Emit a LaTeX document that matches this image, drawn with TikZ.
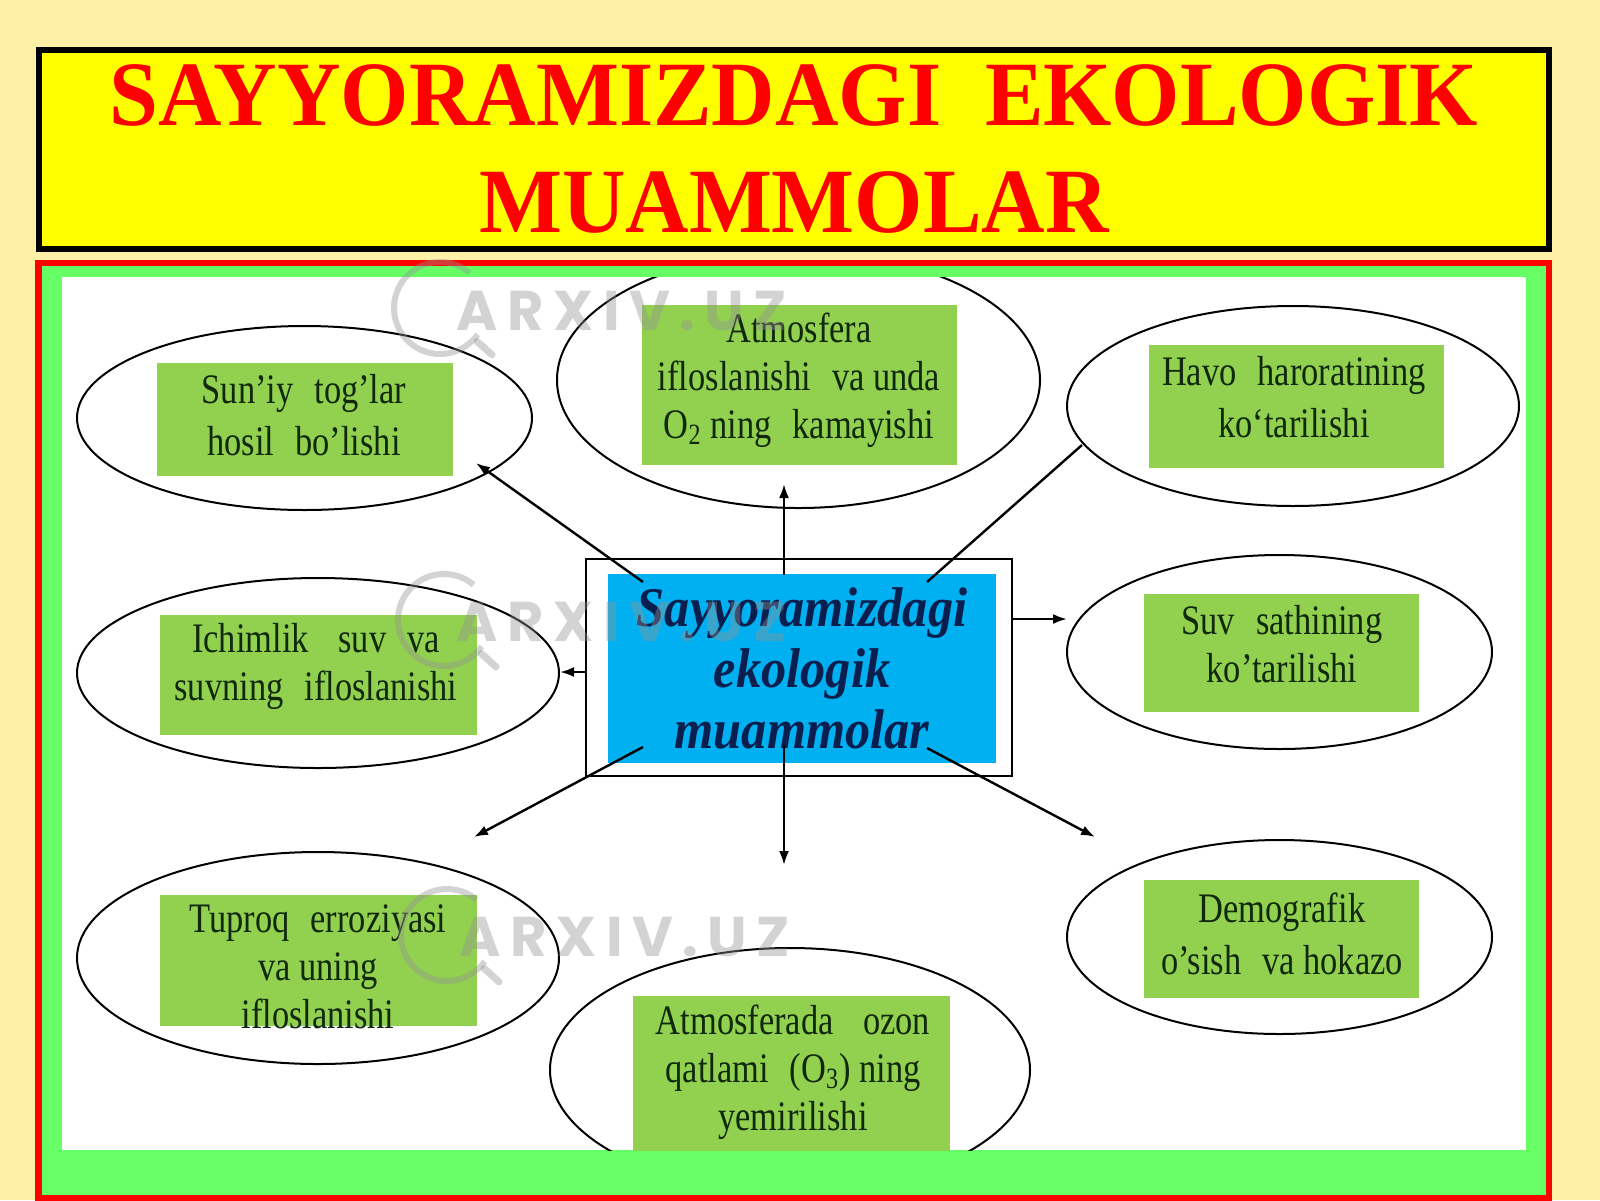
\documentclass[tikz,border=0pt]{standalone}
\usepackage{fontspec}
\setmainfont{Liberation Serif}
\newfontfamily\titlefont[FakeStretch=0.955]{Liberation Serif}
\newfontfamily\boxfont[FakeStretch=0.82]{Liberation Serif}
\newfontfamily\centerfont[FakeStretch=0.9]{Liberation Serif}
\newfontfamily\wmfont[LetterSpace=17]{Poppins}
\usetikzlibrary{shapes.geometric,arrows.meta}
\definecolor{bgyellow}{HTML}{FFF0A8}
\definecolor{titleyellow}{HTML}{FFFF00}
\definecolor{framered}{HTML}{FF0000}
\definecolor{bandgreen}{HTML}{66FF66}
\definecolor{boxgreen}{HTML}{92D050}
\definecolor{coreblue}{HTML}{00B0F0}
\definecolor{navy}{HTML}{0B1F4F}
\definecolor{boxtext}{HTML}{10280C}
\tikzset{
  oval/.style={draw=black, line width=1pt, ellipse, inner sep=0pt},
  gbox/.style={fill=boxgreen, draw=none, inner sep=0pt},
  btext/.style={font=\boxfont\fontsize{21}{24}\selectfont, text=boxtext, align=center, inner sep=0pt},
  bwide/.style={font=\boxfont\fontsize{21}{26}\selectfont},
  ttext/.style={font=\titlefont\bfseries\fontsize{46}{52}\selectfont, text=framered, inner sep=0pt, anchor=base},
  arr/.style={line width=1.2pt, -{Latex[length=7pt,width=5pt]}},
  plainline/.style={line width=1.2pt},
  wm/.style={font=\wmfont\bfseries\fontsize{28}{30}\selectfont, text=gray!85, inner sep=0pt},
}
\begin{document}
\begin{tikzpicture}[x=0.5pt,y=-0.5pt]
\useasboundingbox (0,0) rectangle (1600,1200);
\fill[bgyellow] (0,0) rectangle (1600,1200);

% title
\draw[line width=3pt, fill=titleyellow] (39,50) rectangle (1549,249);
\node[ttext] (title1) at (794,125) {SAYYORAMIZDAGI\hspace{22pt}EKOLOGIK};
\node[ttext] (title2) at (794,232) {MUAMMOLAR};

% frame
\fill[framered] (35,260) rectangle (1552,1205);
\fill[bandgreen] (42,266) rectangle (1546,1195);
\fill[white] (62,277) rectangle (1526,1150);

\begin{scope}
\clip (62,277) rectangle (1526,1150);
% ellipses
\node[oval, minimum width=227.5pt, minimum height=92pt] (e1) at (304.5,418) {};
\node[oval, minimum width=241.5pt, minimum height=128pt] (e2) at (798.5,380) {};
\node[oval, minimum width=226pt, minimum height=100pt] (e3) at (1293,406) {};
\node[oval, minimum width=241pt, minimum height=95pt] (e4) at (318,673) {};
\node[oval, minimum width=212.5pt, minimum height=97pt] (e6) at (1279.5,652) {};
\node[oval, minimum width=241pt, minimum height=106pt] (e7) at (318,958) {};
\node[oval, minimum width=240pt, minimum height=122pt] (e8) at (790,1070) {};
\node[oval, minimum width=212.5pt, minimum height=97pt] (e9) at (1279.5,937) {};

% green boxes
\node[gbox, minimum width=148pt, minimum height=56.5pt] (b1) at (305,419.5) {};
\node[gbox, minimum width=157.5pt, minimum height=80pt] (b2) at (799.5,385) {};
\node[gbox, minimum width=147.5pt, minimum height=61.5pt] (b3) at (1296.5,406.5) {};
\node[gbox, minimum width=158.5pt, minimum height=60pt] (b4) at (318.5,675) {};
\node[gbox, minimum width=137.5pt, minimum height=59pt] (b6) at (1281.5,653) {};
\node[gbox, minimum width=158.5pt, minimum height=65.5pt] (b7) at (318.5,960.5) {};
\node[gbox, minimum width=158.5pt, minimum height=80pt] (b8) at (791.5,1076) {};
\node[gbox, minimum width=137.5pt, minimum height=59pt] (b9) at (1281.5,939) {};

% box texts
\node[btext, bwide] (t1) at (304,415) {Sun’iy\enspace tog’lar\\hosil\enspace bo’lishi};
\node[btext] (t2) at (799,380) {Atmosfera\\ifloslanishi\enspace va unda\\O\textsubscript{2} ning\enspace kamayishi};
\node[btext, bwide] (t3) at (1294,397) {Havo\enspace haroratining\\ko‘tarilishi};
\node[btext] (t4) at (316,666) {Ichimlik\enspace\ suv\enspace va\\suvning\enspace ifloslanishi};
\node[btext] (t6) at (1282,644) {Suv\enspace sathining\\ko’tarilishi};
\node[btext] (t7) at (318,967) {Tuproq\enspace erroziyasi\\va uning\\ifloslanishi};
\node[btext] (t8) at (793,1072) {Atmosferada\enspace\ ozon\\qatlami\enspace (O\textsubscript{3}) ning\\yemirilishi};
\node[btext, bwide] (t9) at (1282,934) {Demografik\\o’sish\enspace va hokazo};
\end{scope}

% central block
\node[draw=black, line width=1pt, fill=white, minimum width=213pt, minimum height=108.5pt, inner sep=0pt] (cbox) at (799,667.5) {};
\node[fill=coreblue, minimum width=194pt, minimum height=94.5pt, inner sep=0pt, text=navy,
      font=\centerfont\bfseries\itshape\fontsize{28}{30.5}\selectfont, align=center] (core) at (802,668.5)
      {Sayyoramizdagi\\ekologik\\muammolar};

% connector end points
\coordinate (s1) at (643,582);  \coordinate (p1) at (476,463);
\coordinate (s2) at (784,575);  \coordinate (p2) at (784,484);
\coordinate (s3) at (927,582);  \coordinate (p3) at (1082,445);
\coordinate (s6) at (1012,619); \coordinate (p6) at (1067,619);
\coordinate (s4) at (586,672);  \coordinate (p4) at (560,672);
\coordinate (s7) at (643,747);  \coordinate (p7) at (474,837);
\coordinate (s8) at (784,745);  \coordinate (p8) at (784,865);
\coordinate (s9) at (927,748);  \coordinate (p9) at (1095,837);

\draw[arr] (s1) -- (p1);
\draw[arr] (s2) -- (p2);
\draw[plainline] (s3) -- (p3);
\draw[arr] (s6) -- (p6);
\draw[arr] (s4) -- (p4);
\draw[arr] (s7) -- (p7);
\draw[arr] (s8) -- (p8);
\draw[arr] (s9) -- (p9);

% watermark
\begin{scope}[opacity=0.4]
\foreach \cx/\cy/\tx/\ty/\nm in {440/308/622/311/wa, 444/620/622/622/wb, 447/935/625/937/wc}{
  \draw[gray!85, line width=3pt] ([shift={(50:23pt)}]\cx,\cy) arc[start angle=50, end angle=325, radius=23pt];
  \draw[gray!85, line width=3.5pt, line cap=round] ([shift={(-42:25pt)}]\cx,\cy) -- ([shift={(-42:35pt)}]\cx,\cy);
  \node[wm] (\nm) at (\tx,\ty) {ARXIV.UZ};
}
\end{scope}
\end{tikzpicture}
\end{document}
